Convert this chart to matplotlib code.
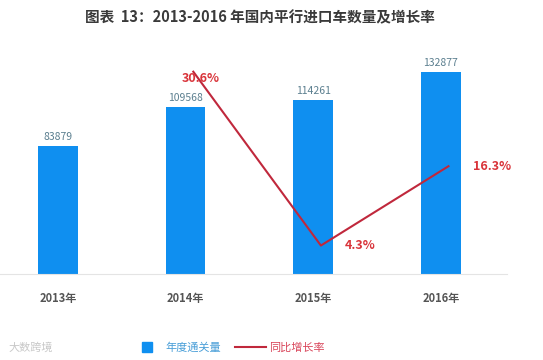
import numpy as np
import matplotlib
matplotlib.use('Agg')
import matplotlib.pyplot as plt
from matplotlib.lines import Line2D

plt.rcParams['font.family'] = ['Noto Sans CJK SC', 'DejaVu Sans']

# data
years = ['2013年', '2014年', '2015年', '2016年']
volume = [83879, 109568, 114261, 132877]
growth_years = ['2014年', '2015年', '2016年']
growth = [30.6, 4.3, 16.3]
growth_labels = ['30.6%', '4.3%', '16.3%']

bar_color = '#0f8ff0'
line_color = '#c0283c'

fig = plt.figure(figsize=(5.43, 3.6), dpi=100)
ax = fig.add_axes([0.0, 0.239, 0.934, 0.65])
ax2 = ax.twinx()

x = np.arange(len(years))
ax.bar(x, volume, width=0.31, color=bar_color, zorder=2)
for xi, v in zip(x, volume):
    ax.annotate(str(v), (xi, v), xytext=(0, 3), textcoords='offset points',
                ha='center', va='bottom', fontsize=7.5, color='#5b7f8f')

ax.set_xlim(-0.455, 3.52)
ax.set_ylim(0, 153900)
ax.set_xticks(x)
ax.set_xticklabels(years, fontsize=8, fontweight='bold', color='#555555')
ax.tick_params(axis='x', length=0, pad=13)
ax.set_yticks([])
for s in ['top', 'left', 'right']:
    ax.spines[s].set_visible(False)
ax.spines['bottom'].set_color('#e4e4e4')

# growth line (slightly shifted to the right of the bar centres)
gx = np.array([years.index(y) for y in growth_years]) + 0.06
ax2.plot(gx, growth, color=line_color, lw=1.5, zorder=3)
ax2.set_ylim(0, 35.4)
ax2.set_yticks([])
for s in ['top', 'left', 'right', 'bottom']:
    ax2.spines[s].set_visible(False)
offsets = [(-8, -5), (17, 0), (18, 0)]
for xi, g, lab, off in zip(gx, growth, growth_labels, offsets):
    ax2.annotate(lab, (xi, g), xytext=off, textcoords='offset points',
                 ha='left', va='center', fontsize=9, fontweight='bold',
                 color='#d9343a')

fig.text(0.479, 0.953, '图表  13：2013-2016 年国内平行进口车数量及增长率',
         ha='center', va='center', fontsize=10.5, fontweight='bold',
         color='#3a3a3a')

handles = [Line2D([], [], marker='s', ls='', color=bar_color, markersize=7),
           Line2D([], [], color=line_color, lw=1.5)]
leg = fig.legend(handles, ['年度通关量', '同比增长率'], loc='center',
                 bbox_to_anchor=(0.42, 0.035), ncol=2, frameon=False,
                 fontsize=8, handlelength=2.8, columnspacing=1.2,
                 handletextpad=0.3)
leg.get_texts()[0].set_color('#4a9fd8')
leg.get_texts()[1].set_color('#d9455a')

fig.text(0.015, 0.035, '大数跨境', ha='left', va='center', fontsize=8,
         color='#c8c8c8')

fig.savefig('out.png', dpi=100)
